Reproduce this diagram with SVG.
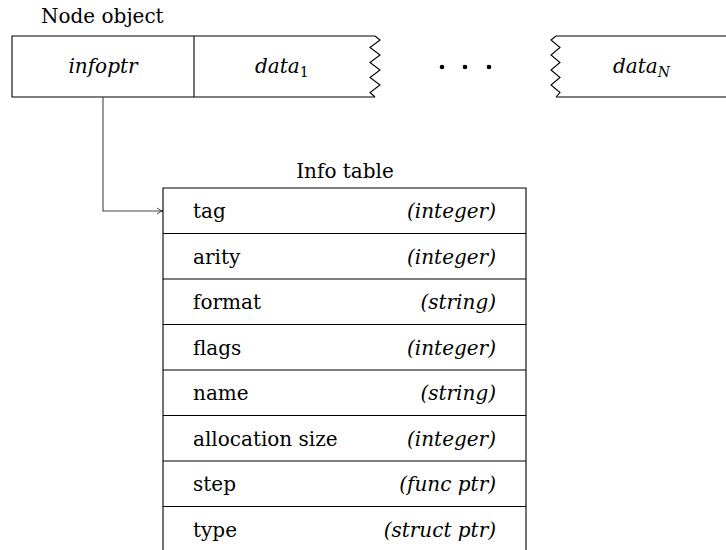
<svg xmlns="http://www.w3.org/2000/svg" width="726" height="550" viewBox="0 0 726 550">
<defs>
<style>
text{font-size:20px;fill:#000}
.it{font-style:italic}
.r{text-anchor:end}
.c{text-anchor:middle}
.ln{stroke:#000;stroke-width:1.1;fill:none}
.cn{stroke:#444;stroke-width:1.1;fill:none}
</style>
<marker id="ah" markerWidth="8" markerHeight="8" refX="7" refY="4" orient="auto" markerUnits="userSpaceOnUse">
<path d="M1,1 Q4,3.5 7,4 Q4,4.5 1,7" fill="none" stroke="#444" stroke-width="1"/>
</marker>
</defs>
<rect width="726" height="550" fill="#fff"/>
<g font-family="'DejaVu Serif', 'Liberation Serif', serif">
<g id="node-object">
<text x="41" y="23">Node object</text>
<path class="ln" d="M375,36 L12,36 L12,97 L375,97"/>
<path class="ln" d="M375,36 L380,40 L370,47.5 L380,55 L370,62.5 L380,70 L370,77.5 L380,85 L370,92.5 L375,97"/>
<line class="ln" x1="194" y1="36" x2="194" y2="97"/>
<text class="it c" x="103" y="73">infoptr</text>
<text class="it" x="255" y="73">data<tspan font-size="14" font-style="normal" dy="4">1</tspan></text>
<circle cx="442" cy="67" r="2.3"/>
<circle cx="465" cy="67" r="2.3"/>
<circle cx="489" cy="67" r="2.3"/>
<path class="ln" d="M556,36 L726,36 M556,97 L726,97"/>
<path class="ln" d="M556,36 L551,40 L560,47.5 L551,55 L560,62.5 L551,70 L560,77.5 L551,85 L560,92.5 L556,97"/>
<text class="it" x="613" y="73">data<tspan font-size="14" dy="4">N</tspan></text>
</g>
<g id="connectors">
<path class="cn" d="M103,97 L103,211 L163,211" marker-end="url(#ah)"/>
</g>
<g id="info-table">
<text class="c" x="345" y="178">Info table</text>
<path class="ln" d="M163,550 L163,188 L526,188 L526,550"/>
<path class="ln" d="M163,233.5 H526 M163,279 H526 M163,324.5 H526 M163,370 H526 M163,415.5 H526 M163,461 H526 M163,506.5 H526"/>
<text x="193" y="218">tag</text><text class="it r" x="496" y="218">(integer)</text>
<text x="193" y="263.5">arity</text><text class="it r" x="496" y="263.5">(integer)</text>
<text x="193" y="309">format</text><text class="it r" x="496" y="309">(string)</text>
<text x="193" y="354.5">flags</text><text class="it r" x="496" y="354.5">(integer)</text>
<text x="193" y="400">name</text><text class="it r" x="496" y="400">(string)</text>
<text x="193" y="445.5">allocation size</text><text class="it r" x="496" y="445.5">(integer)</text>
<text x="193" y="491">step</text><text class="it r" x="496" y="491">(func ptr)</text>
<text x="193" y="536.5">type</text><text class="it r" x="496" y="536.5">(struct ptr)</text>
</g>
</g>
</svg>
